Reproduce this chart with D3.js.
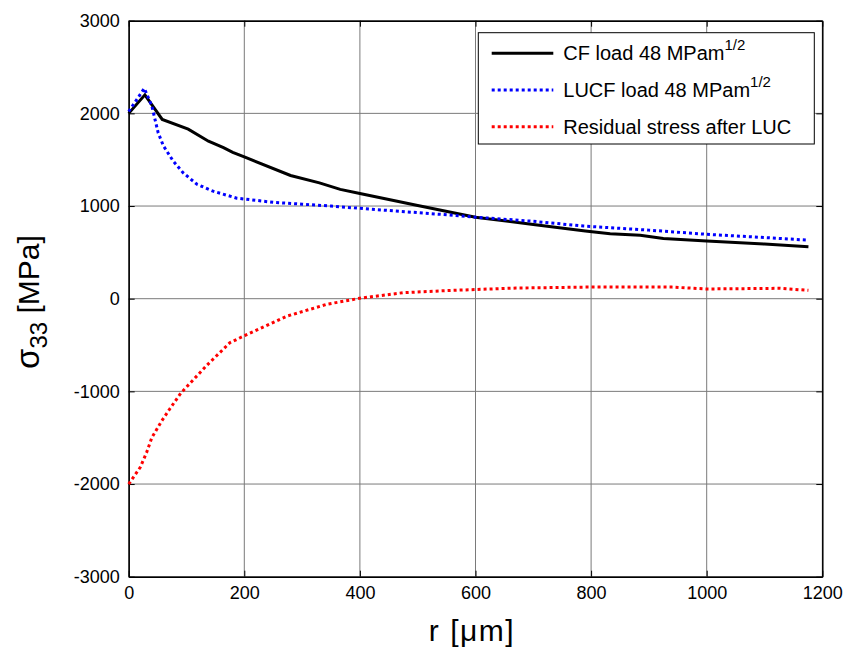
<!DOCTYPE html>
<html>
<head>
<meta charset="utf-8">
<script src="https://cdn.jsdelivr.net/npm/d3@7"></script>
<style>
  body { margin: 0; background: #fff; }
  text { font-family: "Liberation Sans", Arial, sans-serif; }
</style>
</head>
<body>
<div id="container"></div>
<script>
const width = 847;
const height = 648;
const margin = { top: 20.7, right: 24.7, bottom: 71.3, left: 128.7 };

// data: [r in um, stress in MPa]
const cfLoad = [
  [0, 2000], [28, 2200], [58, 1935], [103, 1830], [138, 1700], [164, 1630],
  [180, 1580], [200, 1530], [280, 1330], [330, 1250], [366, 1180], [400, 1135],
  [500, 1005], [600, 880], [700, 800], [790, 730], [833, 701], [885, 684],
  [925, 650], [1000, 622], [1100, 590], [1176, 561]
];
const lucfLoad = [
  [0, 2020], [27, 2270], [40, 2080], [51, 1790], [60, 1650], [77, 1485],
  [94, 1360], [118, 1235], [146, 1160], [187, 1085], [250, 1040], [300, 1020],
  [350, 1000], [400, 975], [540, 910], [600, 880], [700, 835], [787, 784],
  [900, 740], [1000, 695], [1100, 660], [1173, 633]
];
const residual = [
  [0, -2000], [20, -1820], [31, -1660], [40, -1500], [57, -1320], [71, -1190],
  [90, -1020], [135, -720], [175, -475], [200, -400], [273, -190], [343, -60],
  [400, 5], [475, 65], [560, 90], [670, 115], [790, 125], [940, 125],
  [1000, 105], [1127, 112], [1176, 90]
];

const xTicks = [0, 200, 400, 600, 800, 1000, 1200];
const yTicks = [-3000, -2000, -1000, 0, 1000, 2000, 3000];

const series = [
  { name: "CF load 48 MPam", sup: "1/2", data: cfLoad, color: "#000000", dash: null },
  { name: "LUCF load 48 MPam", sup: "1/2", data: lucfLoad, color: "#0000ff", dash: "3,3" },
  { name: "Residual stress after LUC", sup: null, data: residual, color: "#ff0000", dash: "3,3" }
];

const svg = d3.select("#container").append("svg")
  .attr("width", width).attr("height", height);

const x = d3.scaleLinear([0, 1200], [margin.left, width - margin.right]);
const y = d3.scaleLinear([-3000, 3000], [height - margin.bottom, margin.top]);

const fmt = d => String(d); // plain "-1000" style, no separators

// grid
svg.append("g").selectAll("line").data(xTicks).join("line")
  .attr("x1", d => x(d)).attr("x2", d => x(d))
  .attr("y1", y(-3000)).attr("y2", y(3000))
  .attr("stroke", "#7a7a7a").attr("stroke-width", 1);
svg.append("g").selectAll("line").data(yTicks).join("line")
  .attr("y1", d => y(d)).attr("y2", d => y(d))
  .attr("x1", x(0)).attr("x2", x(1200))
  .attr("stroke", "#7a7a7a").attr("stroke-width", 1);

// axes with inward ticks
svg.append("g")
  .attr("transform", `translate(0,${y(-3000)})`)
  .call(d3.axisBottom(x).tickValues(xTicks).tickFormat(fmt)
    .tickSizeInner(-6).tickSizeOuter(0).tickPadding(10));
svg.append("g")
  .attr("transform", `translate(${x(0)},0)`)
  .call(d3.axisLeft(y).tickValues(yTicks).tickFormat(fmt)
    .tickSizeInner(-6).tickSizeOuter(0).tickPadding(9));
svg.append("g")
  .attr("transform", `translate(0,${y(3000)})`)
  .call(d3.axisTop(x).tickValues(xTicks).tickSizeInner(-6).tickSizeOuter(0).tickFormat(""));
svg.append("g")
  .attr("transform", `translate(${x(1200)},0)`)
  .call(d3.axisRight(y).tickValues(yTicks).tickSizeInner(-6).tickSizeOuter(0).tickFormat(""));

svg.selectAll(".domain").attr("stroke", "#000").attr("stroke-width", 1.5);
svg.selectAll(".tick line").attr("stroke", "#000");
svg.selectAll(".tick text").attr("font-size", 18).attr("fill", "#000")
  .attr("font-family", "Liberation Sans, Arial, sans-serif");

// curves
const line = d3.line().x(d => x(d[0])).y(d => y(d[1]));
series.forEach(s => {
  svg.append("path")
    .datum(s.data)
    .attr("d", line)
    .attr("fill", "none")
    .attr("stroke", s.color)
    .attr("stroke-width", 3)
    .attr("stroke-dasharray", s.dash);
});

// axis labels
svg.append("text")
  .attr("x", 472).attr("y", 641)
  .attr("text-anchor", "middle").attr("font-size", 30)
  .attr("letter-spacing", 1.5)
  .text("r [\u03bcm]");

const yl = svg.append("text")
  .attr("transform", `translate(39,302) rotate(-90)`)
  .attr("text-anchor", "middle").attr("font-size", 30);
yl.append("tspan").attr("font-size", 33).text("\u03c3");
yl.append("tspan").attr("dy", 8).attr("font-size", 24).text("33");
yl.append("tspan").attr("dy", -8).text(" [MPa]");

// legend
const lg = svg.append("g");
lg.append("rect")
  .attr("x", 478.3).attr("y", 32.7).attr("width", 336).attr("height", 111.3)
  .attr("fill", "#fff").attr("stroke", "#000").attr("stroke-width", 1);
series.forEach((s, i) => {
  const ry = 53.3 + i * 36.7;
  lg.append("line")
    .attr("x1", 491.7).attr("x2", 553.3).attr("y1", ry).attr("y2", ry)
    .attr("stroke", s.color).attr("stroke-width", 3)
    .attr("stroke-dasharray", s.dash);
  const t = lg.append("text")
    .attr("x", 563.3).attr("y", ry + 7).attr("font-size", 20);
  t.append("tspan").text(s.name);
  if (s.sup) t.append("tspan").attr("dy", -10).attr("font-size", 15).text(s.sup);
});
</script>
</body>
</html>
